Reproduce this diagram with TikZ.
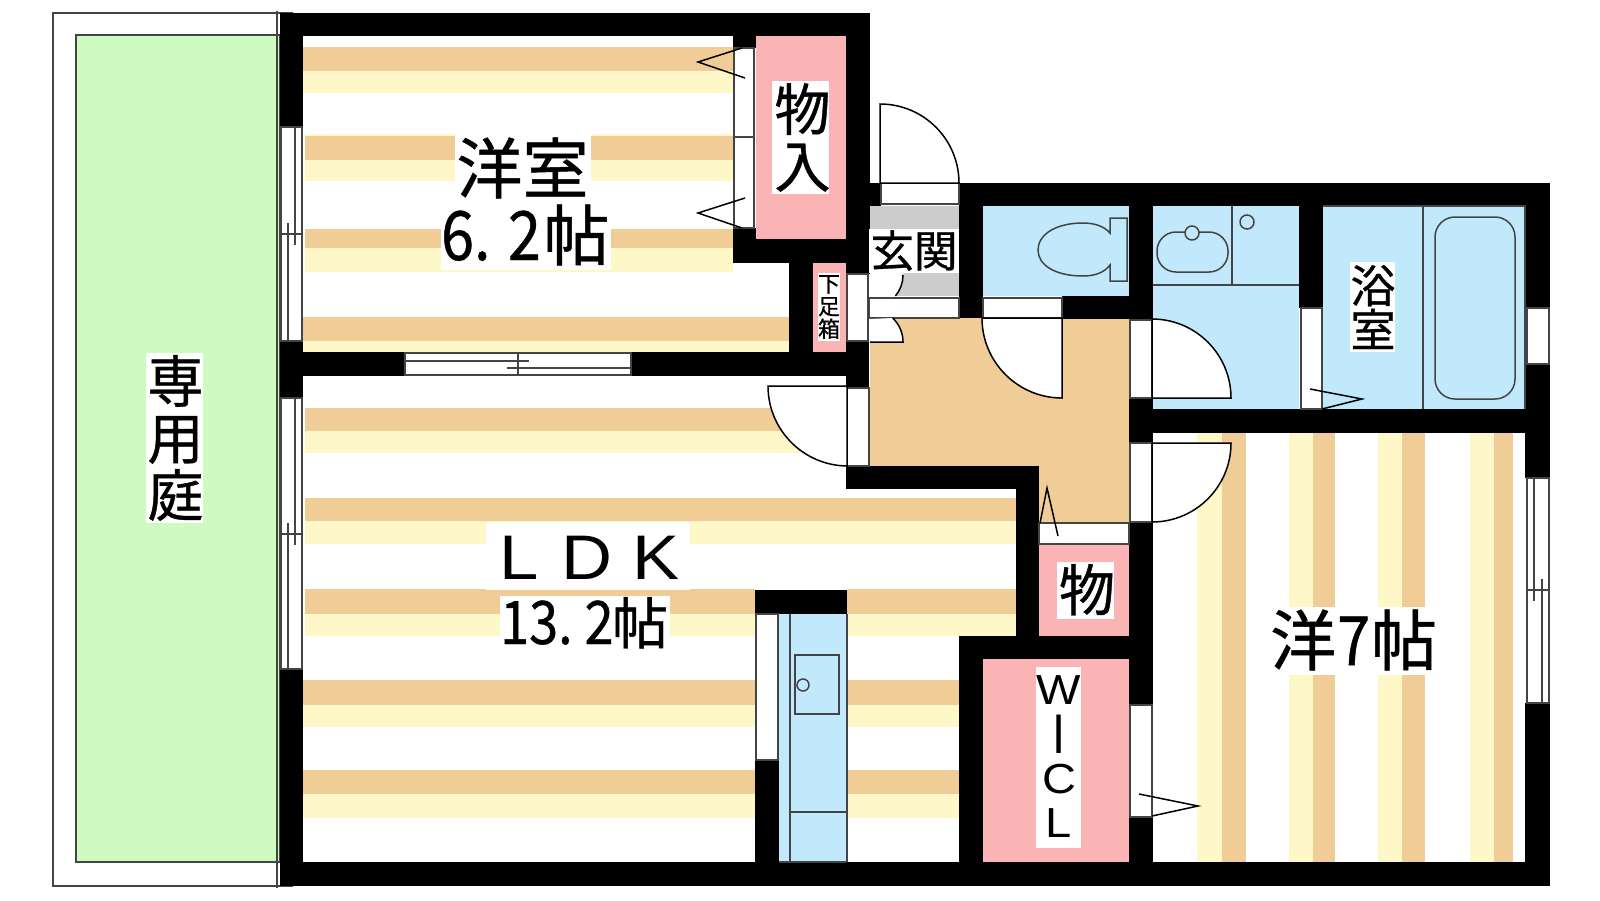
\documentclass[tikz,border=0pt]{standalone}
\usepackage{fontspec}
\usepackage{graphicx}
\newfontfamily\cjk[FakeBold=0.7]{Noto Sans CJK JP}
\newfontfamily\dig[FakeStretch=0.87,FakeBold=0.7]{Noto Sans CJK JP}
\newfontfamily\lat[FakeStretch=1.12]{Liberation Sans}
\newcommand{\fsz}[1]{\fontsize{#1}{#1}\selectfont}
\newcommand{\fszl}[2]{\fontsize{#1}{#2}\selectfont}
\definecolor{floorO}{HTML}{F0CC96}
\definecolor{floorY}{HTML}{FEF8C8}
\definecolor{wetB}{HTML}{C2E9FB}
\definecolor{storeP}{HTML}{FAB4B6}
\definecolor{gardenG}{HTML}{CDFBC2}
\definecolor{entryG}{HTML}{CCCCCC}
\definecolor{thinL}{HTML}{444444}
\tikzset{
  thin line/.style={draw=thinL,line width=1.4pt},
  frame box/.style={draw=thinL,line width=1.4pt,fill=white},
  door leaf/.style={draw=black,line width=1.5pt,fill=white},
  swing/.style={draw=black,line width=1.5pt},
  fixture/.style={draw=thinL,line width=1.5pt},
  txt/.style={inner sep=0pt,text=black},
}
\begin{document}
\begin{tikzpicture}[x=1pt,y=-1pt]
\useasboundingbox (0,0) rectangle (1600,900);
\fill[white] (0,0) rectangle (1600,900);

% garden
\draw[thin line,fill=white] (53,13) rectangle (292,886);
\draw[thin line,fill=gardenG] (76,35) rectangle (280,862);
\draw[thin line] (277,11) -- (277,888);

% wet rooms and coloured floors
\fill[wetB] (983,206) rectangle (1129,296);
\fill[wetB] (1153,206) rectangle (1299,409);
\fill[wetB] (1323,206) rectangle (1525,409);
\fill[wetB] (778,614) rectangle (847,862);
\fill[storeP] (756,36) rectangle (846,239);
\fill[storeP] (813,263) rectangle (846,352);
\fill[storeP] (1039,544) rectangle (1129,636);
\fill[storeP] (983,659) rectangle (1129,862);
\fill[floorO] (870,318) -- (1129,318) -- (1129,522) -- (1039,522) -- (1039,466) -- (870,466) -- cycle;
\fill[entryG] (870,206) rectangle (959,229);
\fill[entryG] (870,273) rectangle (959,296);

% horizontal stripes: x1, x2, top, middle, bottom
\foreach \a/\b/\c/\d/\e in {
  303/733/47/71/93, 305/733/136/160/181, 305/733/229/248/272, 303/789/317/341/352,
  305/847/408/431/453, 305/1016/498/521/544,
  305/755/589/614/636, 847/1016/589/614/636,
  303/755/680/705/727, 847/959/680/705/727,
  303/755/770/794/818, 847/959/770/794/818}{
  \fill[floorO] (\a,\c) rectangle (\b,\d);
  \fill[floorY] (\a,\d) rectangle (\b,\e);
}
\fill[floorY] (305,134) rectangle (733,136);
% vertical stripes
\foreach \a/\b/\c in {1197/1222/1246, 1289/1313/1335, 1378/1402/1425, 1470/1494/1513}{
  \fill[floorY] (\a,433) rectangle (\b,862);
  \fill[floorO] (\b,433) rectangle (\c,862);
}

% walls
\foreach \a/\b/\c/\d in {
  280/13/870/36, 280/13/303/127, 280/341/303/398, 280/669/303/886, 280/862/1550/886,
  303/352/405/376, 631/352/869/376,
  733/36/756/48, 733/228/756/263, 733/239/870/263, 846/13/870/274,
  789/263/813/352, 846/263/869/274, 846/341/869/388,
  870/183/881/206, 959/183/1550/206, 959/183/983/318,
  1062/296/1153/319, 1129/183/1153/319, 1129/398/1153/443, 1129/522/1153/705, 1129/817/1153/862,
  1129/409/1550/433, 1299/183/1323/308,
  1525/183/1550/308, 1525/364/1550/478, 1525/703/1550/886,
  755/590/847/614, 755/760/779/862,
  846/466/1039/489, 1016/466/1039/636,
  959/636/1153/659, 959/636/983/862}{
  \fill[black] (\a,\b) rectangle (\c,\d);
}

% window and door frames
\foreach \a/\b/\c/\d in {
  881/183/959/204, 869/298/959/318, 983/298/1062/318, 847/274/868/341,
  847/388/869/466, 1130/320/1152/398, 1130/443/1152/522, 1039/523/1129/544,
  1130/705/1152/817, 1301/308/1322/409, 734/48/754/228, 756/614/778/760,
  281/127/302/341, 281/398/302/669, 405/353/631/375, 1527/478/1549/703, 1527/308/1549/364}{
  \draw[frame box] (\a,\b) rectangle (\c,\d);
}
\draw[thin line] (734,137) -- (754,137);
\draw[thin line] (281,234) -- (302,234);
\draw[thin line] (288,223) -- (288,341);
\draw[thin line] (295,127) -- (295,245);
\draw[thin line] (281,534) -- (302,534);
\draw[thin line] (288,523) -- (288,669);
\draw[thin line] (295,398) -- (295,545);
\draw[thin line] (518,353) -- (518,375);
\draw[thin line] (405,361) -- (529,361);
\draw[thin line] (507,368) -- (631,368);
\draw[thin line] (1527,590) -- (1549,590);
\draw[thin line] (1534,478) -- (1534,601);
\draw[thin line] (1542,579) -- (1542,703);

% doors
\draw[door leaf] (880,183) -- (880,104) arc[start angle=-90,end angle=0,radius=79] -- cycle;
\draw[door leaf] (847,466) -- (847,386) -- (768,386) arc[start angle=180,end angle=90,radius=80] -- cycle;
\draw[door leaf] (1062,398) -- (1062,318) -- (982,318) arc[start angle=180,end angle=90,radius=80] -- cycle;
\draw[door leaf] (1152,319) arc[start angle=-90,end angle=0,radius=79] -- (1152,398) -- cycle;
\draw[door leaf] (1152,522) arc[start angle=90,end angle=0,radius=79] -- (1152,443) -- cycle;

% shoe cabinet doors in the entry
\fill[white] (870,273) -- (903,273) -- (903,275) arc[start angle=0,end angle=39.5,radius=33] -- (870,296) -- cycle;
\draw[swing] (903,275) arc[start angle=0,end angle=39.5,radius=33];
\fill[white] (870,342) -- (903,342) arc[start angle=0,end angle=-46.7,radius=33] -- (870,319) -- cycle;
\draw[swing] (870,342) -- (903,342) arc[start angle=0,end angle=-46.7,radius=33];

% sliding door marks
\draw[swing] (742,48) -- (698,62) -- (745,78);
\draw[swing] (745,198) -- (698,213) -- (742,228);
\draw[swing] (1040,523) -- (1047,488) -- (1058,536);
\draw[swing] (1310,389) -- (1362,399) -- (1322,409);
\draw[swing] (1139,794) -- (1198,806) -- (1152,816);

% toilet
\draw[fixture] (1110,233) .. controls (1104,226) and (1094,223) .. (1083,223)
  .. controls (1055,223) and (1038,235) .. (1038,250)
  .. controls (1038,265) and (1055,276) .. (1083,276)
  .. controls (1094,276) and (1104,273) .. (1110,265)
  -- (1110,281) -- (1127,281) -- (1127,218) -- (1110,218) -- cycle;
% washbasin area
\draw[thin line] (1153,285) -- (1299,285);
\draw[thin line] (1232,206) -- (1232,285);
\draw[fixture,rounded corners=19pt] (1157,232) rectangle (1228,272);
\draw[fixture,fill=wetB] (1192,233) circle[radius=7];
\draw[fixture] (1247,222) circle[radius=7];
% bath
\draw[thin line] (1423,206) -- (1423,409);
\draw[thin line] (1323,206) -- (1525,206) -- (1525,409);
\draw[fixture,rounded corners=20pt] (1435,217) rectangle (1515,399);
% kitchen
\draw[thin line] (790,614) -- (790,862);
\draw[thin line] (847,614) -- (847,862);
\draw[thin line] (779,862) -- (847,862);
\draw[thin line] (790,812) -- (847,812);
\draw[fixture] (795,655) rectangle (839,714);
\draw[fixture] (803,685) circle[radius=6];

% white label plates
\foreach \a/\b/\c/\d in {
  146/353/203/523, 455/134/591/205, 441/205/611/270, 772/81/829/194,
  869/229/959/273, 818/273/840/341, 1350/262/1395/352, 486/522/690/590,
  500/596/670/652, 1057/562/1114/619, 1036/667/1081/848, 1270/607/1437/675}{
  \fill[white] (\a,\b) rectangle (\c,\d);
}

% labels
\node[txt,align=center,font=\cjk\fszl{56}{57}] (garden) at (175.5,438) {専\\用\\庭};
\node[txt,anchor=base,font=\cjk\fsz{66}] (western) at (522.5,193) {洋室};
\node[txt,anchor=base west,font=\dig\fsz{68}] (western2) at (441,260) {6. 2\hspace{2.5pt}{\cjk\fsz{66}帖}};
\node[txt,align=center,font=\cjk\fszl{56}{57}] (closet) at (802.5,137.5) {物\\入};
\node[txt,anchor=base,font=\cjk\fsz{43.5}] (entry) at (914,267) {玄関};
\node[txt,align=center,font=\cjk\fszl{22}{22.6}] (shoe) at (829,307) {下\\足\\箱};
\node[txt,align=center,font=\cjk\fszl{45}{44}] (bath) at (1373,307) {浴\\室};
\node[txt,anchor=base west,font=\lat\fsz{63}] (ldk) at (499,579) {L\hspace{23.5pt}D\hspace{20pt}K};
\node[txt,anchor=base west,font=\dig\fsz{60}] (ldk2) at (500,644) {13.\hspace{12pt}2\hspace{-1.5pt}{\cjk\fsz{56}帖}};
\node[txt,anchor=base,font=\cjk\fsz{56}] (store) at (1087,611) {物};
\node[txt,align=center,font=\lat\fszl{42}{44.5}] (wicl) at (1059,756.5) {W\\\smash{\raisebox{-5pt}{\scalebox{1}[1.33]{I}}}\\C\\L};
\node[txt,anchor=base west,font=\cjk\fsz{66}] (room7) at (1270,665) {洋\hspace{1pt}{\dig\fsz{68}7}\hspace{1pt}帖};
\end{tikzpicture}
\end{document}
